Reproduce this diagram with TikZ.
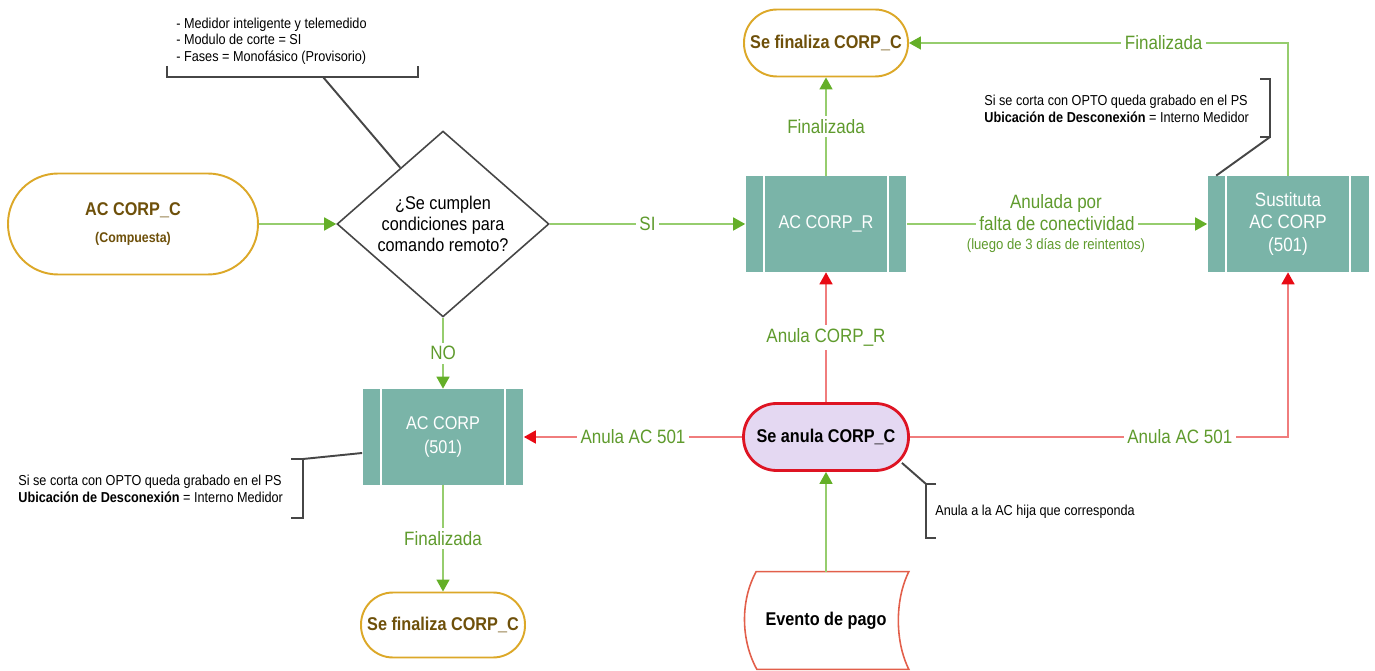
\documentclass[tikz,border=0pt]{standalone}
\usepackage{fontspec}
\setmainfont[FakeStretch=0.88]{Liberation Sans}
\usetikzlibrary{arrows.meta,shapes.geometric,calc}
\definecolor{gline}{RGB}{150,205,110}
\definecolor{gtip}{RGB}{100,175,40}
\definecolor{gtxt}{RGB}{95,155,45}
\definecolor{rline}{RGB}{240,125,125}
\definecolor{rtip}{RGB}{232,10,20}
\definecolor{tealbox}{RGB}{122,180,168}
\definecolor{gold}{RGB}{220,168,40}
\definecolor{goldtxt}{RGB}{110,80,10}
\definecolor{lav}{RGB}{228,216,242}
\definecolor{redb}{RGB}{222,20,35}
\definecolor{evb}{RGB}{226,95,75}
\definecolor{anno}{RGB}{70,70,70}
\begin{document}
\begin{tikzpicture}[x=0.02cm,y=-0.02cm,
  gflow/.style={draw=gline,line width=0.9pt,-{Triangle[length=0.24cm,width=0.26cm,color=gtip]}},
  rflow/.style={draw=rline,line width=0.9pt,-{Triangle[length=0.24cm,width=0.26cm,color=rtip]}},
  lbl/.style={text=gtxt,fill=white,font=\fontsize{11}{13}\selectfont,inner sep=2pt},
  procbox/.style={fill=tealbox,minimum width=3.22cm,minimum height=1.92cm,text=white,align=center,
    font=\fontsize{10.5}{12.8}\selectfont,inner sep=0pt,
    path picture={\draw[white,line width=1.3pt]
      ([xshift=0.37cm]path picture bounding box.north west) -- ([xshift=0.37cm]path picture bounding box.south west)
      ([xshift=-0.37cm]path picture bounding box.north east) -- ([xshift=-0.37cm]path picture bounding box.south east);}},
  goldterm/.style={draw=gold,line width=1.1pt,fill=white,text=goldtxt,align=center,inner sep=0pt,
    font=\fontsize{10.5}{12}\selectfont\bfseries},
  annoline/.style={draw=anno,line width=1.1pt},
  annotxt/.style={font=\fontsize{8.2}{9.4}\selectfont,align=left,inner sep=0pt,anchor=west}
]
\useasboundingbox (0,0) rectangle (1375,671);

% nodes
\node[goldterm,minimum width=5cm,minimum height=2.02cm,rounded corners=1cm] (start) at (133,224)
  {AC CORP\_C\\[3pt]{\fontsize{8}{10}\selectfont\bfseries (Compuesta)}};
\node[diamond,draw=anno,line width=0.9pt,minimum width=4.24cm,minimum height=3.4cm,inner sep=0pt,
  align=center,font=\fontsize{10.5}{11.8}\selectfont] (dia) at (443,224)
  {¿Se cumplen\\condiciones para\\comando remoto?};
\node[procbox] (acr) at (826,224) {AC CORP\_R};
\node[procbox,font=\fontsize{11}{12.6}\selectfont] (sus) at (1288,224) {Sustituta\\AC CORP\\(501)};
\node[procbox,font=\fontsize{10.5}{13.5}\selectfont] (ac501) at (443,437) {AC CORP\\(501)};
\node[goldterm,minimum width=3.28cm,minimum height=1.34cm,rounded corners=0.66cm] (fintop) at (826,43) {Se finaliza CORP\_C};
\node[goldterm,minimum width=3.28cm,minimum height=1.3cm,rounded corners=0.64cm] (finbot) at (443,625) {Se finaliza CORP\_C};
\node[draw=redb,line width=1.6pt,fill=lav,minimum width=3.3cm,minimum height=1.34cm,rounded corners=0.66cm,
  inner sep=0pt,font=\fontsize{10.5}{12}\selectfont\bfseries] (anula) at (826,437) {Se anula CORP\_C};
\node[minimum width=3.3cm,minimum height=1.94cm,inner sep=0pt,font=\fontsize{10.5}{12}\selectfont\bfseries] (ev) at (826,620.5) {Evento de pago};
\draw[evb,line width=0.9pt] (ev.north west) ++(13,0) -- (ev.north east)
  .. controls ++(-14,28) and ++(-14,-28) .. (ev.south east) -- ++(-152,0)
  .. controls ++(-16,-29) and ++(-16,29) .. cycle;

% connectors
\draw[gflow] (start) -- (dia.west);
\draw[gflow] (dia.east) -- node[lbl] {SI} (acr);
\draw[gflow] (dia.south) -- node[lbl] {NO} (ac501);
\draw[gflow] (ac501) -- node[lbl] {Finalizada} (finbot);
\draw[gflow] (acr) -- node[lbl] {Finalizada} (fintop);
\draw[gflow] (acr) -- node[lbl] (falta) {falta de conectividad} (sus);
\node[text=gtxt,font=\fontsize{11}{13}\selectfont,inner sep=0pt] (anpor) at (1056,204) {Anulada por};
\node[text=gtxt,font=\fontsize{8.5}{10}\selectfont,inner sep=0pt] (luego) at (1056,246) {(luego de 3 días de reintentos)};
\draw[gflow] (sus.north) |- node[lbl,pos=0.664] {Finalizada} (fintop.east);
\draw[rflow] (anula) -- node[lbl] {Anula CORP\_R} (acr);
\draw[rflow] (anula.west) -- node[lbl] {Anula AC 501} (ac501.east);
\draw[rflow] (anula.east) -| node[lbl,pos=0.357] {Anula AC 501} (sus.south);
\draw[gflow] (ev.north) -- (anula.south);

% annotations
\node[annotxt] (n1) at (176,41) {- Medidor inteligente y telemedido\\- Modulo de corte = SI\\- Fases = Monofásico (Provisorio)};
\coordinate (b1a) at (167,66);
\coordinate (b1b) at (418,66);
\coordinate (b1m) at (323,77);
\draw[annoline] (b1a) -- (167,77) -- (418,77) -- (b1b);
\draw[annoline] (b1m) -- ($(dia.west)!0.6!(dia.north)$);

\node[annotxt] (n2) at (984,109) {Si se corta con OPTO queda grabado en el PS\\\textbf{Ubicación de Desconexión} = Interno Medidor};
\coordinate (b2t) at (1270,79);
\coordinate (b2b) at (1270,137);
\draw[annoline] (1260,79) -- (b2t) -- (b2b) -- (1260,137);
\draw[annoline] (b2b) -- ([xshift=0.18cm]sus.north west);

\node[annotxt] (n3) at (18,489) {Si se corta con OPTO queda grabado en el PS\\\textbf{Ubicación de Desconexión} = Interno Medidor};
\coordinate (b3t) at (303,459);
\coordinate (b3b) at (303,518);
\draw[annoline] (291,459) -- (b3t) -- (b3b) -- (291,518);
\draw[annoline] (b3t) -- ([yshift=-0.32cm]ac501.west);

\node[annotxt] (n4) at (935,512) {Anula a la AC hija que corresponda};
\coordinate (b4t) at (926,484);
\coordinate (b4b) at (926,538);
\draw[annoline] (936,484) -- (b4t) -- (b4b) -- (936,538);
\draw[annoline] (b4t) -- ($(anula.south east)+(-8,-9)$);
\end{tikzpicture}
\end{document}
